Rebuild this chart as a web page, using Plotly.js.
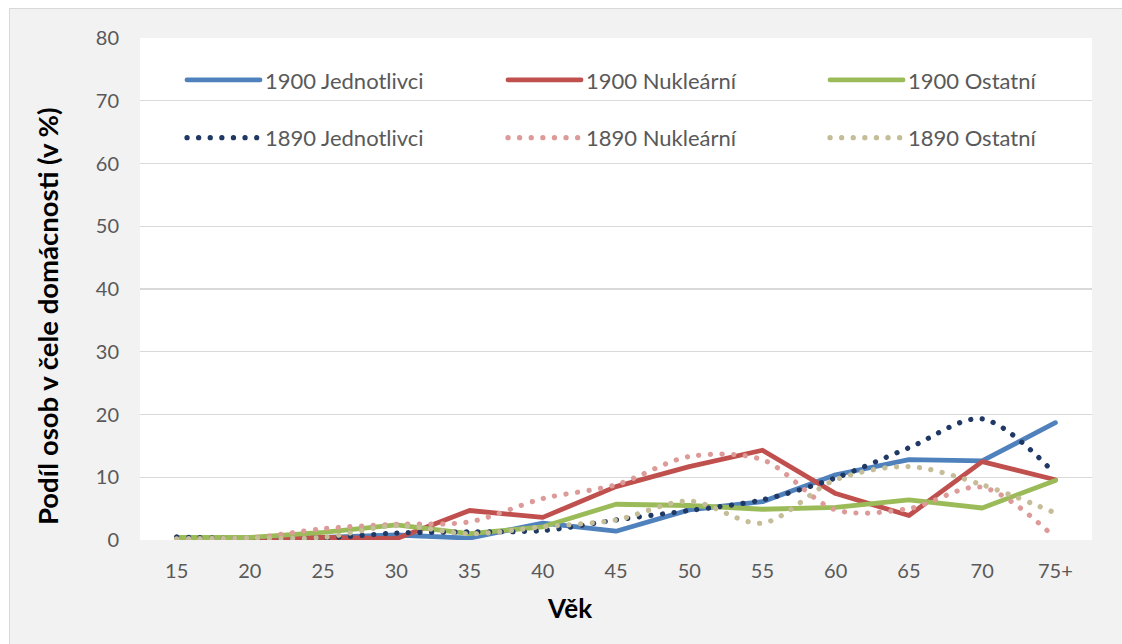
<!DOCTYPE html>
<html>
<head>
<meta charset="utf-8">
<script src="https://cdn.plot.ly/plotly-3.0.1.min.js"></script>
<style>
  html, body { margin: 0; padding: 0; background: #ffffff; overflow: hidden; }
  #frame { position: absolute; left: 9px; top: 8px; width: 1200px; height: 700px;
           background: #f2f2f2; border-left: 1px solid #d9d9d9; border-top: 1px solid #d9d9d9; }
  #chart { position: absolute; left: 0; top: 0; width: 1122px; height: 644px; }
  path.js-line { stroke-linecap: round !important; stroke-linejoin: round !important; }
</style>
</head>
<body>
<div id="frame"></div>
<div id="chart"></div>
<script>
// Věkové kategorie
const categories = ['15', '20', '25', '30', '35', '40', '45', '50', '55', '60', '65', '70', '75+'];

// Podíl osob v čele domácnosti (v %)
const jednotlivci1900 = [0.3, 0.2, 0.4, 0.8, 0.3, 2.7, 1.4, 4.8, 6.1, 10.4, 12.8, 12.6, 18.7];
const nuklearni1900   = [0.2, 0.1, 0.4, 0.2, 4.7, 3.6, 8.5, 11.7, 14.3, 7.4, 3.9, 12.5, 9.6];
const ostatni1900     = [0.4, 0.4, 1.2, 2.4, 1.0, 2.1, 5.7, 5.5, 4.9, 5.2, 6.4, 5.1, 9.5];

const jednotlivci1890 = [0.5, 0.2, 0.3, 1.1, 1.3, 1.5, 3.2, 4.7, 6.4, 9.9, 14.7, 19.3, 10.5];
const nuklearni1890   = [0.1, 0.3, 1.8, 2.5, 2.9, 6.6, 8.8, 13.3, 12.8, 4.8, 5.0, 8.4, 0.3];
const ostatni1890     = [0.2, 0.3, 0.4, 2.3, 1.0, 2.1, 3.2, 6.2, 2.7, 9.6, 11.7, 8.8, 4.3];

const seriesNames = ['1900 Jednotlivci', '1900 Nukleární', '1900 Ostatní',
                     '1890 Jednotlivci', '1890 Nukleární', '1890 Ostatní'];
const yTickVals = [0, 10, 20, 30, 40, 50, 60, 70, 80];

const FONT = 'Lato, "Open Sans", "DejaVu Sans", sans-serif';
const DOT = '0.1px,11.5px';

function solid(name, y, color, leg) {
  return { type: 'scatter', mode: 'lines', x: categories, y: y, name: name,
           line: { color: color, width: 4.8 }, legend: leg, hoverinfo: 'skip' };
}
function dotted(name, y, color, leg) {
  return { type: 'scatter', mode: 'lines', x: categories, y: y, name: name,
           line: { color: color, width: 5.2, dash: DOT, shape: 'spline', smoothing: 0.9 },
           legend: leg, hoverinfo: 'skip' };
}

const traces = [
  solid(seriesNames[0], jednotlivci1900, '#4f81bd', 'legend'),
  solid(seriesNames[1], nuklearni1900, '#c0504d', 'legend2'),
  solid(seriesNames[2], ostatni1900, '#9bbb59', 'legend3'),
  dotted(seriesNames[3], jednotlivci1890, '#1f3864', 'legend4'),
  dotted(seriesNames[4], nuklearni1890, '#dc9a98', 'legend5'),
  dotted(seriesNames[5], ostatni1890, '#c4bd97', 'legend6')
];

// legend placement (paper fractions of the plot area)
const legendCols = [(182 - 140) / 952, (503 - 140) / 952, (825 - 140) / 952];
const legendRows = [0.916, 0.801];

function legendAt(col, row) {
  return {
    orientation: 'h', xref: 'paper', yref: 'paper',
    x: legendCols[col], y: legendRows[row], xanchor: 'left', yanchor: 'middle',
    bgcolor: 'rgba(0,0,0,0)', borderwidth: 0,
    font: { family: FONT, size: 22, color: '#595959' },
    itemwidth: 73, itemclick: false, itemdoubleclick: false
  };
}

const layout = {
  width: 1122, height: 644,
  paper_bgcolor: 'rgba(0,0,0,0)', plot_bgcolor: '#ffffff',
  margin: { l: 140, r: 30, t: 38, b: 104 },
  font: { family: FONT, color: '#595959' },
  showlegend: true,
  legend: legendAt(0, 0), legend2: legendAt(1, 0), legend3: legendAt(2, 0),
  legend4: legendAt(0, 1), legend5: legendAt(1, 1), legend6: legendAt(2, 1),
  xaxis: {
    type: 'category', range: [-0.5, categories.length - 0.5],
    showgrid: false, zeroline: false, showline: false, ticks: '',
    tickfont: { family: FONT, size: 20, color: '#595959' }, ticklabelstandoff: 17,
    fixedrange: true
  },
  yaxis: {
    range: [0, 80], tickvals: yTickVals, ticktext: yTickVals.map(String),
    showgrid: true, gridcolor: '#d9d9d9', gridwidth: 1.4,
    zeroline: false, showline: false, ticks: '',
    tickfont: { family: FONT, size: 20, color: '#595959' }, ticklabelstandoff: 20,
    fixedrange: true
  },
  annotations: [
    { text: '<b>Podíl osob v čele domácnosti (v %)</b>', xref: 'paper', yref: 'paper',
      x: 0, y: 0.446, xshift: -93, xanchor: 'center', yanchor: 'middle', textangle: -90,
      showarrow: false, font: { family: FONT, size: 27.5, color: '#000000' } },
    { text: '<b>Věk</b>', xref: 'paper', yref: 'paper',
      x: (569 - 140) / 952, y: 0, yshift: -68, xanchor: 'center', yanchor: 'middle',
      showarrow: false, font: { family: FONT, size: 26, color: '#000000' } }
  ]
};

Plotly.newPlot('chart', traces, layout, { displayModeBar: false, staticPlot: true });
</script>
</body>
</html>
